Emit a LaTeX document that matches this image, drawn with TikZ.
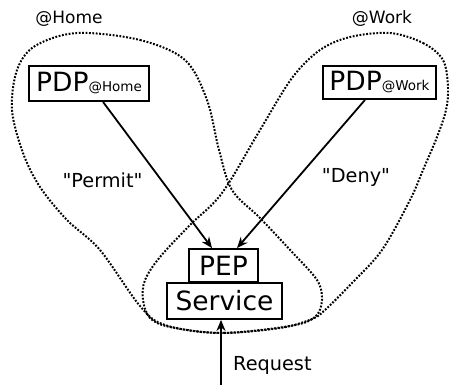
\documentclass[tikz,border=0pt]{standalone}
\usepackage{fontspec}
\setmainfont{DejaVu Sans}[Ligatures=TeXOff]
\usetikzlibrary{arrows.meta}
\begin{document}
\begin{tikzpicture}[x=1pt,y=-1pt,
  box/.style={draw,line width=1.8pt,inner sep=0pt,align=center},
  big/.style={font=\fontsize{26.5}{30}\selectfont},
  lbl/.style={font=\fontsize{19.3}{22}\selectfont,inner sep=0pt},
  dom/.style={font=\fontsize{17}{20}\selectfont,inner sep=0pt},
  flow/.style={line width=1.8pt,-{Stealth[length=11pt,width=9pt]}},
  region/.style={line width=2pt,dash pattern=on 1.8pt off 1.6pt,line cap=butt}]
\useasboundingbox (0,0) rectangle (449,385);
% domains
\draw[region] plot[smooth cycle,tension=0.55] coordinates {
 (77,33) (140,40) (185,60) (207,100) (219,150) (232,190) (260,218) (292,252)
 (317,280) (322,300) (315,317) (290,326) (220,333) (165,325) (140,306)
 (100,250) (67,220) (40,187) (23,153) (12,110) (17,70) (35,46)};
\draw[region] plot[smooth cycle,tension=0.55] coordinates {
 (390,33) (423,43) (443,60) (448,87) (446,110) (437,137) (423,170) (410,200)
 (382,250) (352,283) (325,310) (312,319) (280,328) (220,333) (170,327)
 (150,318) (143,300) (145,280) (160,257) (190,225) (222,193) (260,130)
 (292,78) (320,50) (350,37)};
% labels
\node[dom,anchor=base] (lh) at (69,24) {@Home};
\node[dom,anchor=base] (lw) at (382,24) {@Work};
\node[lbl,anchor=base] (lp) at (102.5,187) {"Permit"};
\node[lbl,anchor=base] (ld) at (356,182) {"Deny"};
\node[lbl,anchor=base west] (lr) at (233,370) {Request};
% boxes
\node[box,minimum width=120pt,minimum height=35pt] (pdph) at (89,83.5)
  {{\fontsize{26.5}{30}\selectfont PDP}{\fontsize{13.5}{16}\selectfont @Home}};
\node[box,minimum width=113pt,minimum height=33pt] (pdpw) at (379.5,82.5)
  {{\fontsize{26.5}{30}\selectfont PDP}{\fontsize{13.5}{16}\selectfont @Work}};
\node[box,big,minimum width=69pt,minimum height=33pt] (pep) at (223.5,265.5) {PEP};
\node[box,big,minimum width=115pt,minimum height=36pt] (svc) at (224.5,301) {Service};
% connectors
\draw[flow] ([xshift=14pt]pdph.south) -- ([xshift=-11.5pt]pep.north);
\draw[flow] ([xshift=-14.5pt]pdpw.south) -- ([xshift=13.5pt]pep.north);
\coordinate (req) at (221,385);
\draw[flow] (req) -- (req |- svc.south);
\end{tikzpicture}
\end{document}
